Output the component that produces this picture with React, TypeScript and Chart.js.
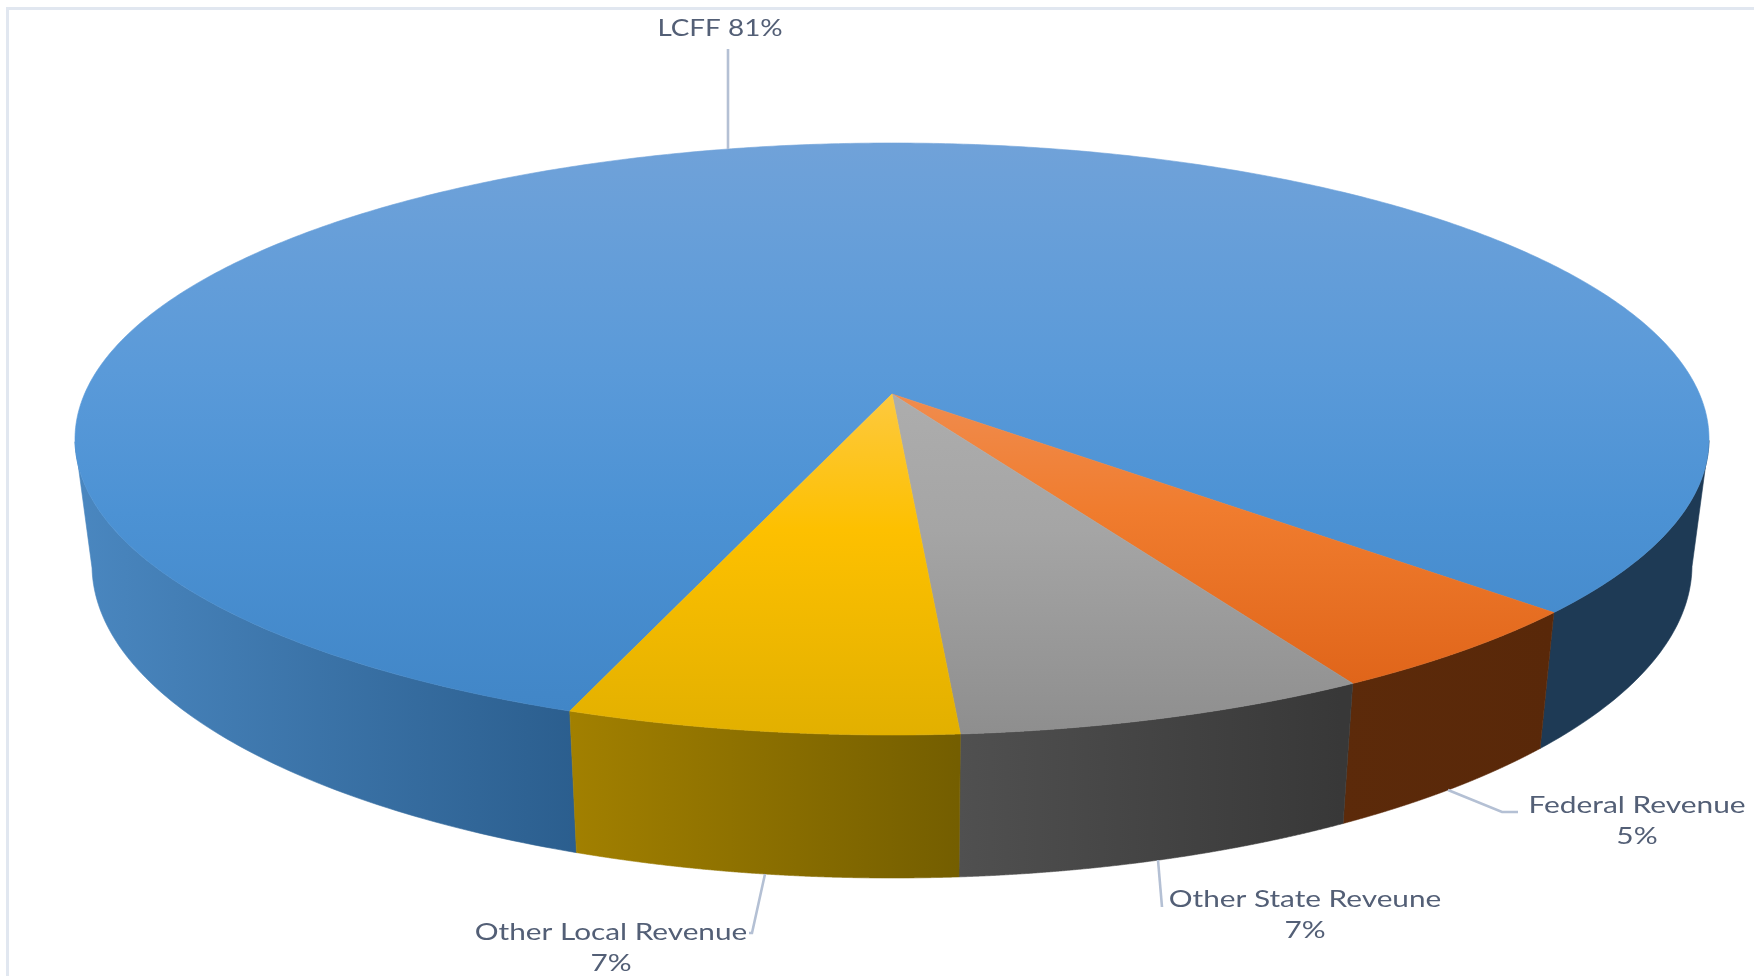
import React, { useEffect, useRef } from "react";
import { Chart, registerables } from "chart.js";

Chart.register(...registerables);

const categories = ["LCFF", "Federal Revenue", "Other State Reveune", "Other Local Revenue"];
const shares = [81.3, 4.9, 7.1, 6.7];
const sliceColors = ["#5b9bd5", "#ed7d31", "#a5a5a5", "#ffc000"];

// Styling and layout of the tilted pie
const TOP = { cx: 892, cy: 439, rx: 817, ry: 296 };
const BOTTOM = { cx: 892, cy: 565, rx: 800, ry: 313 };
const TILT = 0.152;

const topStops: [number, string][][] = [
  [[0, "#70a2d9"], [0.4, "#5a9ad9"], [0.65, "#4c92d4"], [1, "#4186c7"]],
  [[0, "#f08c4e"], [0.4, "#f07c2e"], [1, "#e0651a"]],
  [[0, "#adadad"], [0.4, "#a5a5a5"], [1, "#8e8e8e"]],
  [[0, "#fdc93f"], [0.4, "#fdc000"], [1, "#e2b000"]],
];
// [x0, x1, colour at x0, colour at x1]
const wallShades: [number, number, string, string][] = [
  [75, 577, "#4a87c0", "#2b5e8e"],
  [1341, 1553, "#5c2a0a", "#592809"],
  [959, 1341, "#505050", "#383838"],
  [570, 958, "#a28000", "#745e00"],
];
const rightWall = "#1e3a55";

const pct = (v: number) => `${Math.round(v)}%`;
const labelLines: string[][] = [
  [`${categories[0]} ${pct(shares[0])}`],
  [categories[1], pct(shares[1])],
  [categories[2], pct(shares[2])],
  [categories[3], pct(shares[3])],
];
const labelCenters = [
  [720, 28],
  [1637, 805],
  [1305, 899],
  [611, 932],
];
const labelStretch = [1.16, 1.245, 1.24, 1.24];
const lineGap = 31;
const leaders = [
  [[728, 49], [728, 149]],
  [[1448, 790], [1502, 812], [1518, 812]],
  [[1158, 860], [1162, 907]],
  [[765, 874], [752, 933], [749, 933]],
];

const project = (theta: number) => {
  const x = Math.cos(theta);
  const y = Math.sin(theta);
  const d = 1 - TILT * y;
  return { u: (x * Math.sqrt(1 - TILT * TILT)) / d, v: (y - TILT) / d };
};
const at = (e: typeof TOP, p: { u: number; v: number }) => [e.cx + e.rx * p.u, e.cy + e.ry * p.v];

const pie3d = {
  id: "pie3d",
  beforeDatasetsDraw(chart: any) {
    const ctx: CanvasRenderingContext2D = chart.ctx;
    const arcs = chart.getDatasetMeta(0).data;
    ctx.save();

    // frame
    ctx.strokeStyle = "#e1e7f0";
    ctx.lineWidth = 3;
    ctx.strokeRect(7.5, 8.5, 4000, 4000);

    // side walls
    arcs.forEach((arc: any, i: number) => {
      const n = 400;
      let run: { u: number; v: number }[] = [];
      const flush = () => {
        if (run.length > 1) {
          ctx.beginPath();
          run.forEach((p, k) => {
            const [X, Y] = at(TOP, p);
            k ? ctx.lineTo(X, Y) : ctx.moveTo(X, Y);
          });
          [...run].reverse().forEach((p) => {
            const [X, Y] = at(BOTTOM, p);
            ctx.lineTo(X, Y);
          });
          ctx.closePath();
          const first = at(TOP, run[0])[0];
          let paint: any = rightWall;
          if (!(i === 0 && first > TOP.cx)) {
            const s = wallShades[i];
            paint = ctx.createLinearGradient(s[0], 0, s[1], 0);
            paint.addColorStop(0, s[2]);
            paint.addColorStop(1, s[3]);
          }
          ctx.fillStyle = paint;
          ctx.strokeStyle = paint;
          ctx.lineWidth = 0.6;
          ctx.fill();
          ctx.stroke();
        }
        run = [];
      };
      for (let k = 0; k <= n; k++) {
        const t = arc.startAngle + ((arc.endAngle - arc.startAngle) * k) / n;
        const p = project(t);
        if (p.v >= 0) run.push(p);
        else flush();
      }
      flush();
    });

    // top faces
    const [ax, ay] = at(TOP, { u: 0, v: -TILT });
    arcs.forEach((arc: any, i: number) => {
      const n = 600;
      ctx.beginPath();
      ctx.moveTo(ax, ay);
      let minY = ay;
      let maxY = ay;
      for (let k = 0; k <= n; k++) {
        const t = arc.startAngle + ((arc.endAngle - arc.startAngle) * k) / n;
        const [X, Y] = at(TOP, project(t));
        ctx.lineTo(X, Y);
        minY = Math.min(minY, Y);
        maxY = Math.max(maxY, Y);
      }
      ctx.closePath();
      const g = ctx.createLinearGradient(0, minY, 0, maxY);
      topStops[i].forEach(([o, c]) => g.addColorStop(o, c));
      ctx.fillStyle = g;
      ctx.strokeStyle = g;
      ctx.lineWidth = 0.6;
      ctx.fill();
      ctx.stroke();
    });

    // leaders
    ctx.strokeStyle = "#b4c0d4";
    ctx.lineWidth = 2.6;
    leaders.forEach((pts) => {
      ctx.beginPath();
      pts.forEach(([x, y], k) => (k ? ctx.lineTo(x, y) : ctx.moveTo(x, y)));
      ctx.stroke();
    });

    // labels
    ctx.fillStyle = "#535f76";
    ctx.font = '24px Lato, "Open Sans", sans-serif';
    ctx.textAlign = "center";
    ctx.textBaseline = "middle";
    labelLines.forEach((lines, i) => {
      const [x, y] = labelCenters[i];
      lines.forEach((line, k) => {
        ctx.save();
        ctx.translate(x, y + 0.5 + k * lineGap);
        ctx.scale(labelStretch[i], 1);
        ctx.fillText(line, 0, 0);
        ctx.restore();
      });
    });

    ctx.restore();
    return false;
  },
};

export default function App() {
  const ref = useRef<HTMLCanvasElement>(null);
  useEffect(() => {
    const chart = new Chart(ref.current as HTMLCanvasElement, {
      type: "pie",
      data: {
        labels: categories,
        datasets: [{ data: shares, backgroundColor: sliceColors, borderWidth: 0 }],
      },
      options: {
        animation: false,
        responsive: false,
        devicePixelRatio: 1,
        rotation: 200,
        plugins: { legend: { display: false }, tooltip: { enabled: false } },
      },
      plugins: [pie3d],
    } as any);
    return () => chart.destroy();
  }, []);
  return (
    <canvas
      ref={ref}
      width={1754}
      height={976}
      style={{ position: "absolute", left: 0, top: 0, width: 1754, height: 976, display: "block", filter: "blur(0.5px)" }}
    />
  );
}
